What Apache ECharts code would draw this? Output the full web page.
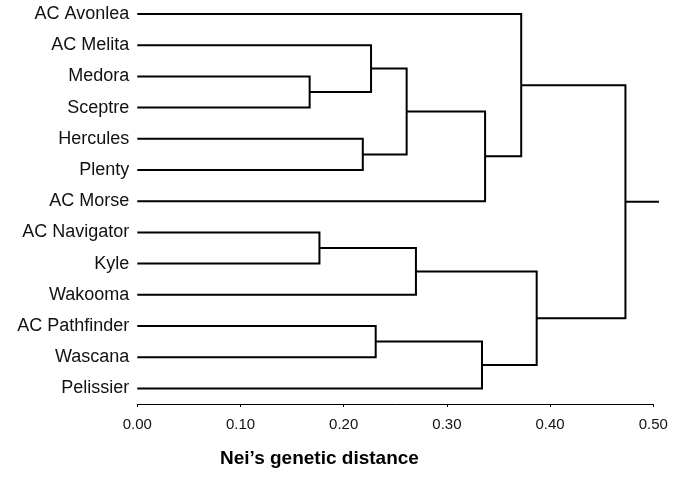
<!DOCTYPE html>
<html>
<head>
<meta charset="utf-8">
<script src="https://cdn.jsdelivr.net/npm/echarts@6/dist/echarts.min.js"></script>
<style>html,body{margin:0;padding:0;background:#fff;}#c{width:680px;height:483px;}</style>
</head>
<body>
<div id="c"></div>
<script>
// Leaves, top to bottom
var leaves = ['AC Avonlea','AC Melita','Medora','Sceptre','Hercules','Plenty','AC Morse',
              'AC Navigator','Kyle','Wakooma','AC Pathfinder','Wascana','Pelissier'];
// Merges (linkage): children are leaf names or 'm<index>' of an earlier merge
var mergeLeft   = ['Medora','AC Melita','Hercules','m1','m3','AC Avonlea','AC Navigator','m6','AC Pathfinder','m8','m7','m5'];
var mergeRight  = ['Sceptre','m0','Plenty','m2','AC Morse','m4','Kyle','Wakooma','Wascana','Pelissier','m9','m10'];
var mergeHeight = [0.167, 0.2265, 0.2185, 0.261, 0.337, 0.372, 0.1765, 0.270, 0.231, 0.334, 0.387, 0.473];
var rootTail = 0.5055;
var xTicks = [0, 0.1, 0.2, 0.3, 0.4, 0.5];

var nodes = {};
leaves.forEach(function (n, i) { nodes[n] = {x: 0, y: i}; });
var segs = [];
for (var i = 0; i < mergeHeight.length; i++) {
  var a = nodes[mergeLeft[i]], b = nodes[mergeRight[i]], h = mergeHeight[i];
  segs.push([a.x, a.y, b.x, b.y, h]);
  nodes['m' + i] = {x: h, y: (a.y + b.y) / 2};
}
var root = nodes['m' + (mergeHeight.length - 1)];

var FONT = '"Liberation Sans", Arial, sans-serif';
var chart = echarts.init(document.getElementById('c'), null, {renderer: 'canvas'});
chart.setOption({
  animation: false,
  backgroundColor: '#fff',
  grid: {left: 137.3, top: 14, width: 516, height: 390},
  xAxis: {
    type: 'value', min: 0, max: 0.5, interval: 0.1, position: 'bottom',
    axisLine: {show: true, onZero: false, lineStyle: {color: '#000', width: 1}},
    axisTick: {show: true, length: 3, lineStyle: {color: '#000'}},
    splitLine: {show: false},
    axisLabel: {margin: 13, color: '#111', fontSize: 15, fontFamily: FONT,
      formatter: function (v) { return v.toFixed(2); }}
  },
  yAxis: {
    type: 'value', min: 0, max: 12.5, interval: 1, inverse: true,
    axisLine: {show: false}, axisTick: {show: false}, splitLine: {show: false},
    axisLabel: {margin: 8, color: '#111', fontSize: 18, fontFamily: FONT,
      formatter: function (v) { return Number.isInteger(v) && leaves[v] ? leaves[v] : ''; }}
  },
  graphic: [{
    type: 'text', left: 220, top: 449,
    style: {text: 'Nei\u2019s genetic distance', font: 'bold 19px ' + FONT, fill: '#000'}
  }],
  series: [{
    type: 'custom',
    clip: false,
    data: segs,
    encode: {x: [0, 2, 4], y: [1, 3]},
    renderItem: function (params, api) {
      var xa = api.value(0), ya = api.value(1), xb = api.value(2), yb = api.value(3), h = api.value(4);
      var pts = [api.coord([xa, ya]), api.coord([h, ya]), api.coord([h, yb]), api.coord([xb, yb])];
      return {type: 'polyline', shape: {points: pts},
        style: {stroke: '#000', lineWidth: 2, fill: null, lineJoin: 'miter'}};
    }
  }, {
    type: 'custom',
    clip: false,
    data: [[root.x, root.y, rootTail]],
    encode: {x: [0, 2], y: [1]},
    renderItem: function (params, api) {
      var p1 = api.coord([api.value(0), api.value(1)]);
      var p2 = api.coord([api.value(2), api.value(1)]);
      return {type: 'line', shape: {x1: p1[0], y1: p1[1], x2: p2[0], y2: p2[1]},
        style: {stroke: '#000', lineWidth: 2}};
    }
  }]
});
</script>
</body>
</html>
